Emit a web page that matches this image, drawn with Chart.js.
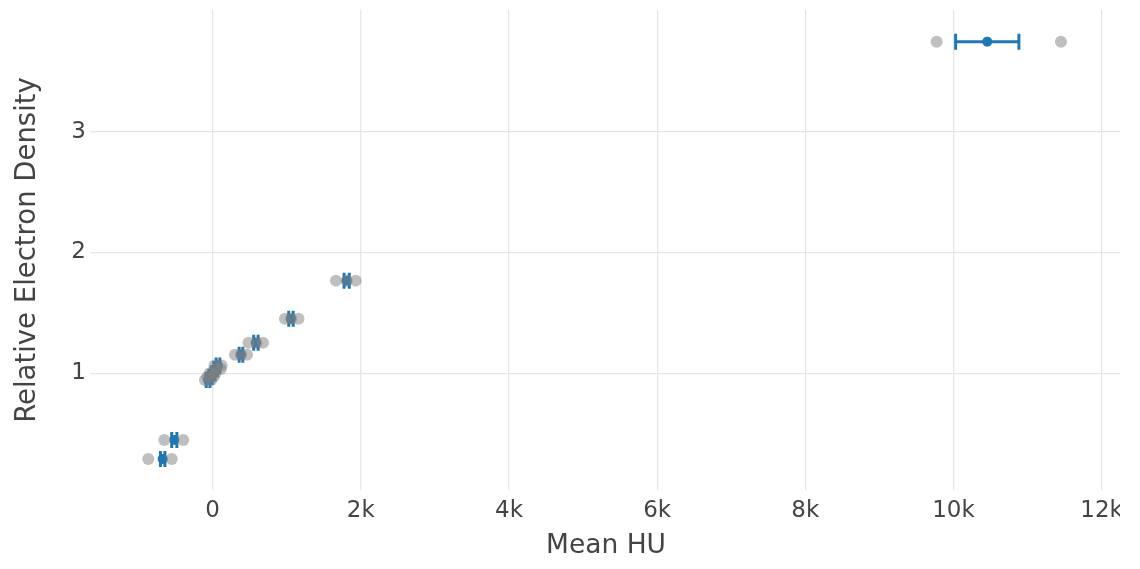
<!DOCTYPE html>
<html><head><meta charset="utf-8">
<script src="https://cdn.jsdelivr.net/npm/chart.js@4.4.1/dist/chart.umd.min.js"></script>
<style>
html,body{margin:0;padding:0;background:#fff;}
#clip{width:1120px;height:569px;overflow:hidden;position:relative;}
#box{width:1160px;height:569px;position:relative;}
</style></head><body>
<div id="clip"><div id="box"><canvas id="c"></canvas></div></div>
<script>
// Mean values per material (blue) with horizontal error (HU)
const meanHU  = [-675, -518, -62, -28, 5, 40, 72, 382, 584, 1057, 1809, 10456];
const meanRED = [0.291, 0.448, 0.945, 0.972, 1.0, 1.035, 1.065, 1.154, 1.253, 1.452, 1.767, 3.745];
const errHU   = [30, 35, 25, 25, 25, 25, 25, 25, 30, 30, 35, 427];

// Individual measurements (grey)
const sampleHU  = [-869, -553, -653, -397,
                   -105, -20, -70, 15, -40, 35, 50, 110, 25, 120,
                   301, 463, 382, 483, 679, 590, 976, 1158, 1060, 1664, 1930, 1810,
                   9773, 11451];
const sampleRED = [0.291, 0.291, 0.448, 0.448,
                   0.945, 0.945, 0.972, 0.972, 1.0, 1.0, 1.035, 1.035, 1.065, 1.065,
                   1.154, 1.154, 1.154, 1.253, 1.253, 1.253, 1.452, 1.452, 1.452, 1.767, 1.767, 1.767,
                   3.745, 3.745];

const xTickValues = [0, 2000, 4000, 6000, 8000, 10000, 12000];
const xTickLabels = ['0', '2k', '4k', '6k', '8k', '10k', '12k'];
const yTickValues = [1, 2, 3];
const yTickLabels = ['1', '2', '3'];

const BLUE = '#1f77b4';
const GREY = 'rgba(127,127,127,0.5)';
const TEXT = '#444';
const GRID = '#e6e6e6';
const FONT = 'DejaVu Sans';

const meanPoints = meanHU.map((x, i) => ({x: x, y: meanRED[i], e: errHU[i]}));
const samplePoints = sampleHU.map((x, i) => ({x: x, y: sampleRED[i]}));

const errorBars = {
  id: 'errorBars',
  beforeDatasetDraw(chart, args) {
    if (args.index !== 1) return;
    const ctx = chart.ctx, xs = chart.scales.x, ys = chart.scales.y;
    ctx.save();
    ctx.strokeStyle = BLUE;
    ctx.lineWidth = 3;
    const cap = 8;
    meanPoints.forEach(p => {
      const x0 = xs.getPixelForValue(p.x - p.e);
      const x1 = xs.getPixelForValue(p.x + p.e);
      const y = ys.getPixelForValue(p.y);
      ctx.beginPath();
      ctx.moveTo(x0, y); ctx.lineTo(x1, y);
      ctx.moveTo(x0, y - cap); ctx.lineTo(x0, y + cap);
      ctx.moveTo(x1, y - cap); ctx.lineTo(x1, y + cap);
      ctx.stroke();
    });
    ctx.restore();
  }
};

new Chart(document.getElementById('c'), {
  type: 'scatter',
  data: {
    datasets: [
      {label: 'samples', data: samplePoints, order: 0,
       backgroundColor: GREY, borderWidth: 0, pointRadius: 6, pointHoverRadius: 6},
      {label: 'mean', data: meanPoints, order: 1,
       backgroundColor: BLUE, borderWidth: 0, pointRadius: 5, pointHoverRadius: 5}
    ]
  },
  plugins: [errorBars],
  options: {
    responsive: true,
    maintainAspectRatio: false,
    animation: false,
    layout: {padding: {top: 10, right: 38, left: 0, bottom: 0}},
    plugins: {legend: {display: false}, tooltip: {enabled: false}},
    scales: {
      x: {
        type: 'linear', min: -1656, max: 12275,
        border: {display: false},
        grid: {color: GRID, lineWidth: 1.3, drawTicks: false},
        afterBuildTicks: s => { s.ticks = xTickValues.map(v => ({value: v})); },
        afterFit: s => { s.height = 79; s.paddingLeft = 0; s.paddingRight = 0; },
        ticks: {
          padding: 7, color: TEXT, font: {family: FONT, size: 23},
          callback: v => xTickLabels[xTickValues.indexOf(v)]
        },
        title: {display: true, text: 'Mean HU', color: TEXT,
                font: {family: FONT, size: 26.5}, padding: {top: 0, bottom: 7}}
      },
      y: {
        type: 'linear', min: 0.034, max: 4.007,
        border: {display: false},
        grid: {color: GRID, lineWidth: 1.3, drawTicks: false},
        afterBuildTicks: s => { s.ticks = yTickValues.map(v => ({value: v})); },
        afterFit: s => { s.width = 90; s.paddingTop = 0; s.paddingBottom = 0; },
        ticks: {
          padding: 4, color: TEXT, font: {family: FONT, size: 23},
          callback: v => yTickLabels[yTickValues.indexOf(v)]
        },
        title: {display: true, text: 'Relative Electron Density', color: TEXT,
                font: {family: FONT, size: 27.5}, padding: {top: 11, bottom: 0}}
      }
    }
  }
});
</script>
</body></html>
